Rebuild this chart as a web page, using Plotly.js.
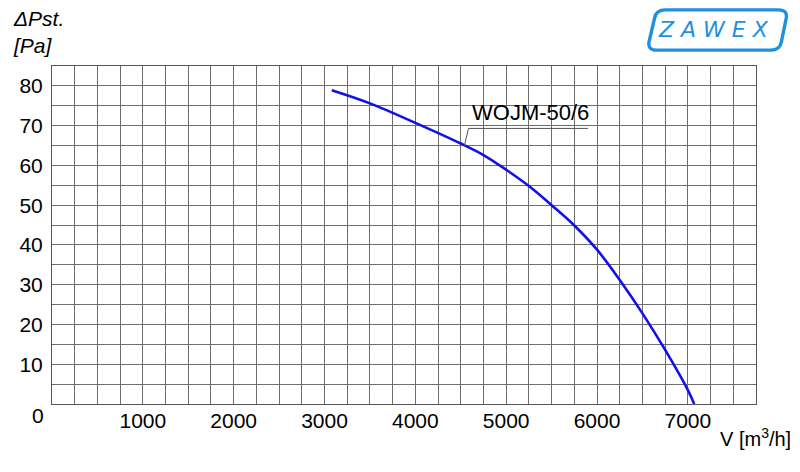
<!DOCTYPE html>
<html>
<head>
<meta charset="utf-8">
<script src="https://cdn.plot.ly/plotly-3.0.1.min.js"></script>
<style>html,body{margin:0;padding:0;background:#fff}#chart{width:800px;height:472px}</style>
</head>
<body>
<div id="chart"></div>
<script>
// Data
const flow = [3080, 3500, 4000, 4500, 4750, 5000, 5250, 5500, 5750, 6000, 6250, 6500, 6750, 7000, 7070];
const pressure = [78.9, 75.6, 70.7, 65.5, 62.6, 58.9, 54.8, 50.0, 44.9, 38.8, 31.2, 22.8, 13.6, 3.5, 0];
const seriesName = "WOJM-50/6";
const xTickVals = [1000, 2000, 3000, 4000, 5000, 6000, 7000];
const xTickText = ["1000", "2000", "3000", "4000", "5000", "6000", "7000"];
const yTickVals = [10, 20, 30, 40, 50, 60, 70, 80];
const yTickText = ["10", "20", "30", "40", "50", "60", "70", "80"];
const labelPoint = [4540, 65];

const font = "Liberation Sans, Arial, sans-serif";
const gridColor = "#6e6e6e";

const trace = {
  x: flow, y: pressure, type: "scatter", mode: "lines", name: seriesName,
  line: {color: "#1010ee", width: 2.6, shape: "spline", smoothing: 1},
  hoverinfo: "skip"
};

const layout = {
  width: 800, height: 472,
  margin: {l: 52, r: 44, t: 66, b: 68},
  paper_bgcolor: "#fff", plot_bgcolor: "#fff",
  showlegend: false,
  font: {family: font, size: 21, color: "#000"},
  xaxis: {
    range: [0, 7750], fixedrange: true,
    tickmode: "array", tickvals: xTickVals, ticktext: xTickText,
    ticks: "", ticklabelstandoff: -2,
    showgrid: true, gridcolor: gridColor, gridwidth: 1,
    minor: {dtick: 250, tick0: 0, showgrid: true, gridcolor: gridColor, gridwidth: 1, ticks: ""},
    showline: true, mirror: true, linecolor: "#555", linewidth: 1,
    zeroline: false,
    tickfont: {family: font, size: 21, color: "#000"}
  },
  yaxis: {
    range: [0, 85], fixedrange: true,
    tickmode: "array", tickvals: yTickVals, ticktext: yTickText,
    ticks: "", ticklabelstandoff: 4,
    showgrid: true, gridcolor: gridColor, gridwidth: 1,
    minor: {dtick: 5, tick0: 0, showgrid: true, gridcolor: gridColor, gridwidth: 1, ticks: ""},
    showline: true, mirror: true, linecolor: "#555", linewidth: 1,
    zeroline: false,
    tickfont: {family: font, size: 21, color: "#000"}
  },
  shapes: [
    // leader line for the series label
    {type: "path", xref: "x", yref: "y",
     path: `M ${labelPoint[0]},${labelPoint[1]} L ${labelPoint[0] + 45},${labelPoint[1] + 4.3} L 5900,${labelPoint[1] + 4.3}`,
     line: {color: "#555", width: 1}},
    // logo frame
    {type: "path", xref: "paper", yref: "paper",
     path: "M 0.871,1.166 L 1.032,1.166 Q 1.045,1.166 1.043,1.142 L 1.036,1.071 Q 1.034,1.047 1.021,1.047 L 0.859,1.047 Q 0.846,1.047 0.848,1.071 L 0.856,1.142 Q 0.858,1.166 0.871,1.166 Z",
     line: {color: "#1f8fe0", width: 3.4}, fillcolor: "rgba(0,0,0,0)"}
  ],
  annotations: [
    {xref: "x", yref: "y", x: labelPoint[0] + 60, y: labelPoint[1] + 4.6, text: seriesName,
     showarrow: false, xanchor: "left", yanchor: "bottom", font: {family: font, size: 22, color: "#000"}},
    {xref: "paper", yref: "paper", x: -0.020, y: -0.035, text: "0", showarrow: false,
     xanchor: "center", yanchor: "middle", font: {family: font, size: 21, color: "#000"}},
    {xref: "paper", yref: "paper", x: 1.052, y: -0.10, text: "V [m<sup>3</sup>/h]", showarrow: false,
     xanchor: "right", yanchor: "middle", font: {family: font, size: 20, color: "#000"}},
    {xref: "paper", yref: "paper", x: -0.058, y: 1.102, text: "<i>ΔPst.<br>[Pa]</i>", showarrow: false,
     xanchor: "left", yanchor: "middle", align: "left", font: {family: font, size: 21, color: "#000"}},
    {xref: "paper", yref: "paper", x: 0.940, y: 1.107, text: "<i>Z A W E X</i>", showarrow: false,
     xanchor: "center", yanchor: "middle", font: {family: "DejaVu Sans, sans-serif", size: 22, color: "#1f8fe0"}}
  ]
};

Plotly.newPlot("chart", [trace], layout, {displayModeBar: false, staticPlot: true});
</script>
</body>
</html>
